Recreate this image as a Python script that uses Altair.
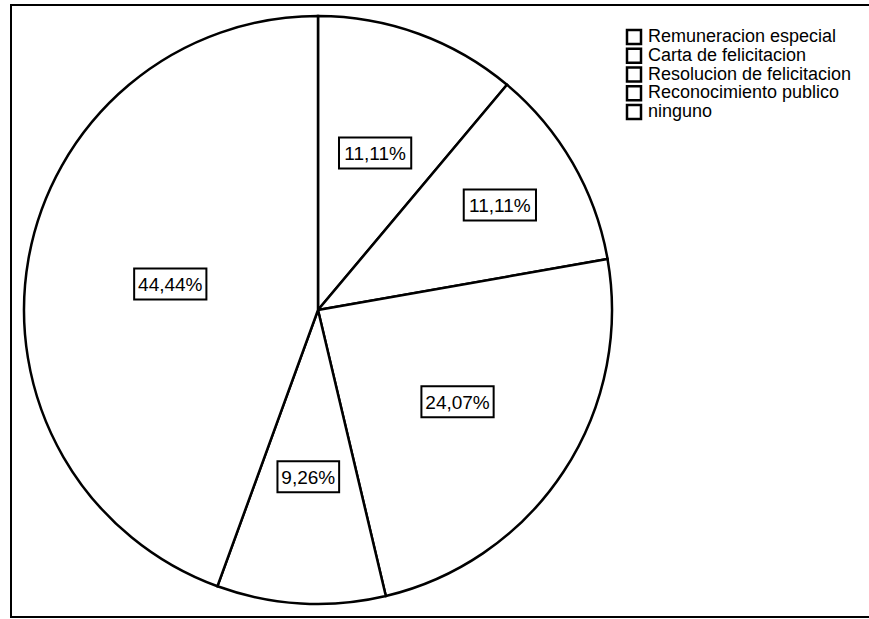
import altair as alt
import pandas as pd

# Survey answers: kind of recognition received (percent of respondents)
categories = [
    "Remuneracion especial",
    "Carta de felicitacion",
    "Resolucion de felicitacion",
    "Reconocimiento publico",
    "ninguno",
]
percents = [11.11, 11.11, 24.07, 9.26, 44.44]

df = pd.DataFrame({"cat": categories, "pct": percents, "idx": list(range(len(categories)))})

# Layout of the drawing area (pixels, relative to the plot origin)
W, H = 858, 612
CX, CY = 307, 305          # pie centre
R = 294                    # pie radius
FONT = "Liberation Sans"

base = alt.Chart(df)

# Frame around the whole figure (its right side runs off the page)
frame = alt.Chart(alt.Data(values=[{}])).mark_rect(
    fill=None, stroke="black", strokeWidth=2
).encode(
    x=alt.value(0), x2=alt.value(W + 40), y=alt.value(0), y2=alt.value(H)
)

pie = base.mark_arc(
    outerRadius=R, stroke="black", strokeWidth=2.5, x=CX, y=CY
).encode(
    theta=alt.Theta("pct:Q", stack=True),
    order=alt.Order("idx:Q"),
    fill=alt.Fill(
        "cat:N",
        scale=alt.Scale(domain=categories, range=["white"] * len(categories)),
        legend=alt.Legend(
            title=None,
            orient="none",
            legendX=614,
            legendY=23,
            padding=0,
            symbolType="square",
            symbolSize=196,
            symbolStrokeColor="black",
            symbolStrokeWidth=2.5,
            symbolFillColor="white",
            symbolOpacity=1,
            labelFont=FONT,
            labelFontSize=18,
            labelColor="black",
            labelOffset=5,
            labelLimit=400,
            clipHeight=18,
            rowPadding=0.75,
        ),
    ),
)

# Label positions: midpoint angle of every slice
labelled = base.transform_joinaggregate(
    total="sum(pct)"
).transform_window(
    cum="sum(pct)", sort=[alt.SortField("idx")], frame=[None, 0]
).transform_calculate(
    mid="2*PI*(datum.cum - datum.pct/2)/datum.total",
    lr="datum.cat == 'Carta de felicitacion' ? 210 : (datum.cat == 'ninguno' ? 150 : 167)",
    label="replace(format(datum.pct, '.2f'), '.', ',') + '%'",
).transform_calculate(
    lx=f"{CX} + datum.lr*sin(datum.mid)",
    ly=f"{CY} - datum.lr*cos(datum.mid)",
    bw="(length(datum.label) - 2)*10.56 + 30",
).transform_calculate(
    bx1="datum.lx - datum.bw/2",
    bx2="datum.lx + datum.bw/2",
    by1="datum.ly - 15.5",
    by2="datum.ly + 15.5",
)

boxes = labelled.mark_rect(fill="white", stroke="black", strokeWidth=2).encode(
    x=alt.X("bx1:Q", scale=None, axis=None),
    x2="bx2:Q",
    y=alt.Y("by1:Q", scale=None, axis=None),
    y2="by2:Q",
)

texts = labelled.mark_text(
    font=FONT, fontSize=19, color="black", align="center", baseline="middle", dy=1
).encode(
    x=alt.X("lx:Q", scale=None, axis=None),
    y=alt.Y("ly:Q", scale=None, axis=None),
    text="label:N",
)

chart = alt.layer(frame, pie, boxes, texts).properties(
    width=W,
    height=H,
    padding={"left": 11, "top": 5, "right": 0, "bottom": 2},
    autosize=alt.AutoSizeParams(type="none"),
    background="white",
).configure_view(stroke=None)

chart.save("out.html", embed_options={"renderer": "svg", "actions": False})
